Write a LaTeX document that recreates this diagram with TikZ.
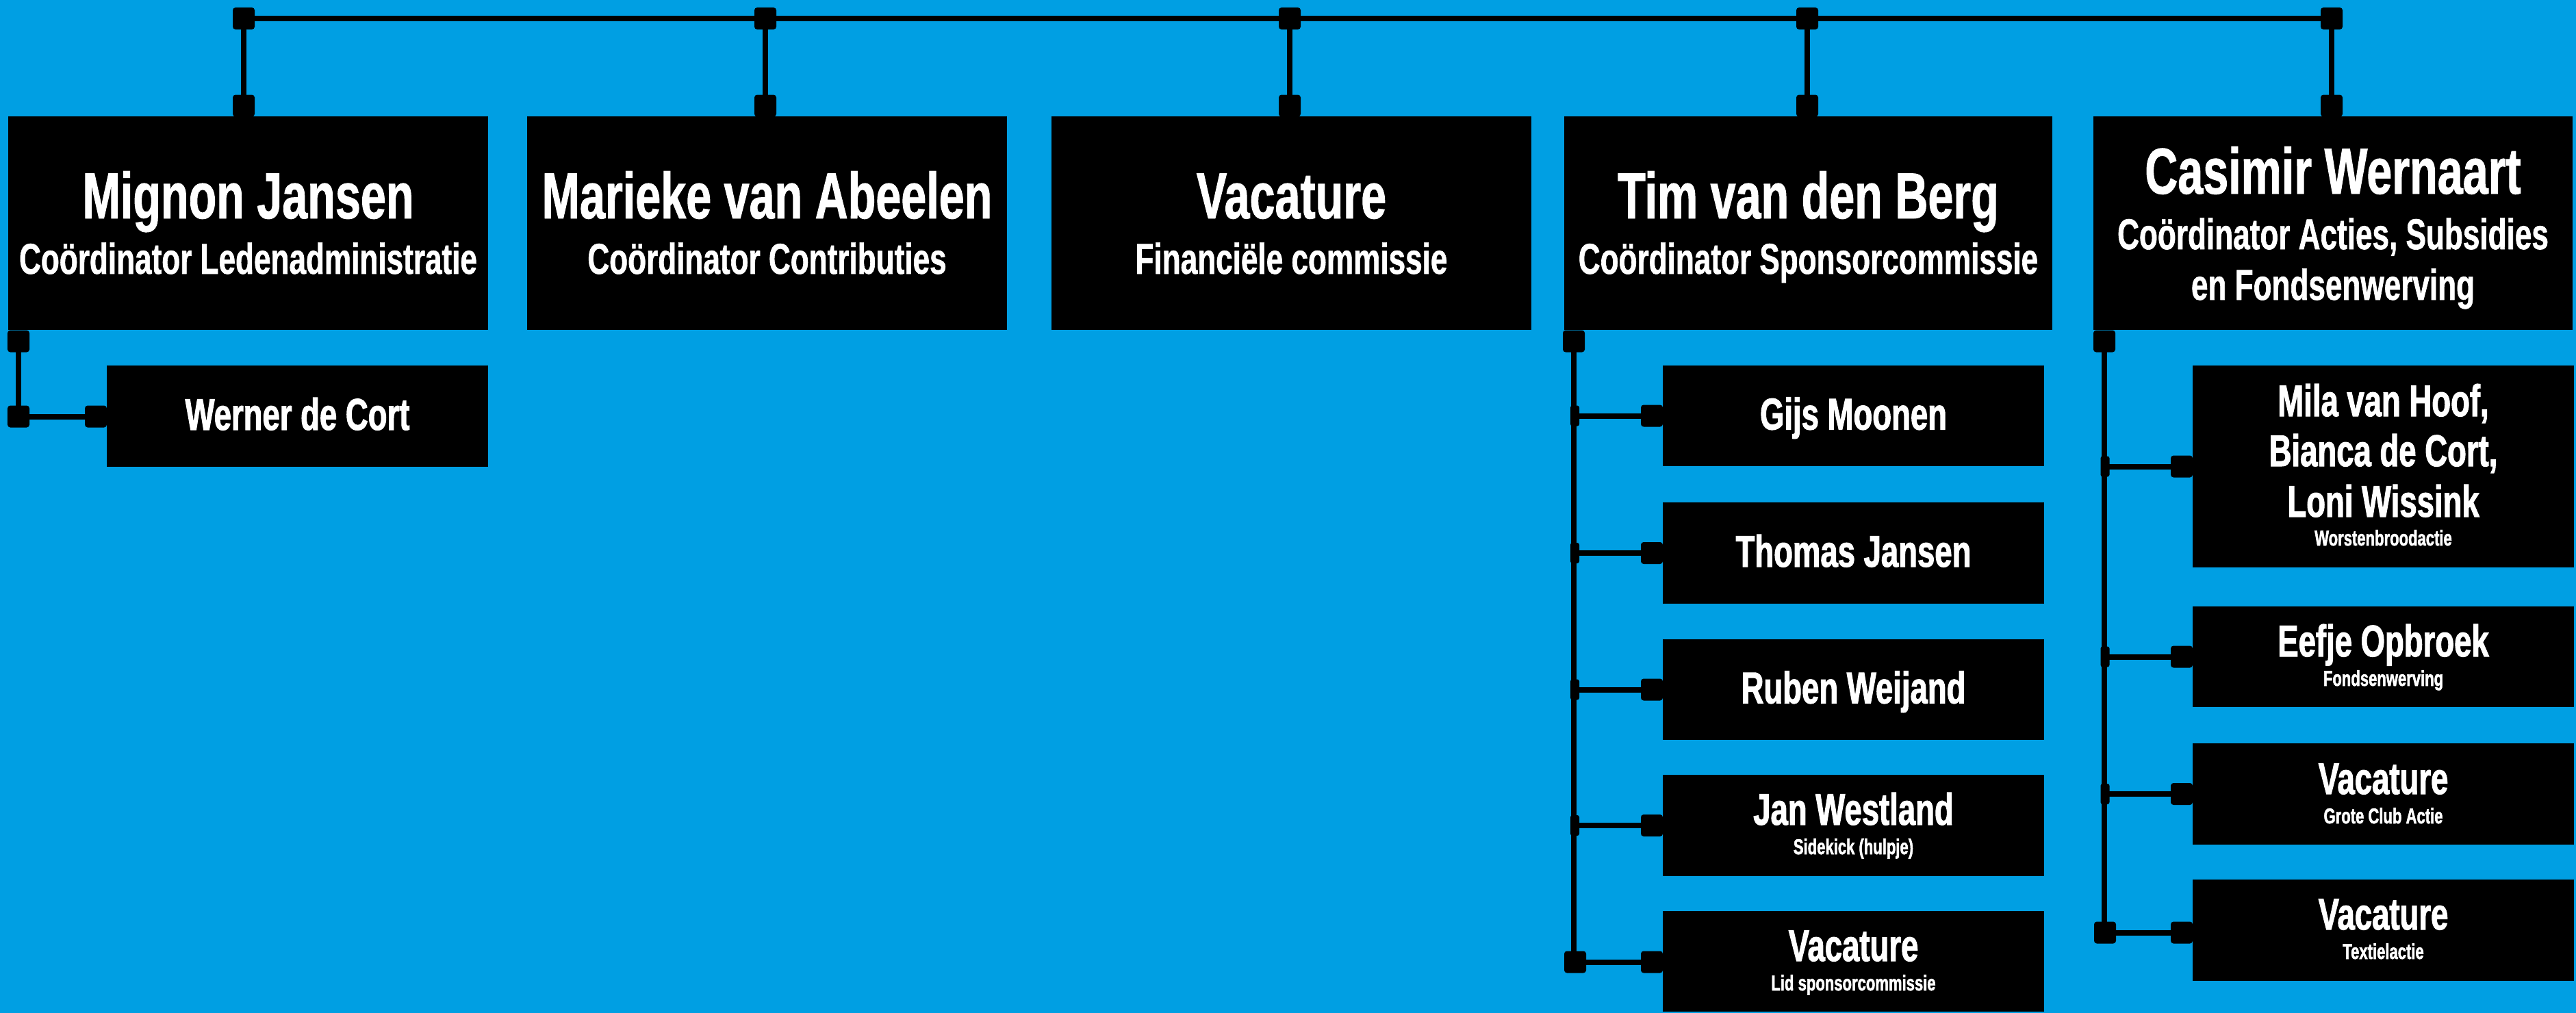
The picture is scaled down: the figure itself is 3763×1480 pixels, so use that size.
\documentclass[tikz,border=0pt]{standalone}
\usepackage{fontspec}
\usetikzlibrary{fit}
\setmainfont{Liberation Sans}
\newfontfamily\hd{Liberation Sans Bold}[FakeStretch=0.7, FakeBold=1]
\newfontfamily\hc{Liberation Sans Bold}[FakeStretch=0.7, FakeBold=1.6]
\definecolor{bg}{HTML}{009FE3}
\begin{document}
\begin{tikzpicture}[x=0.2pt,y=-0.2pt,
  box/.style={fill=black, draw=none, inner sep=0pt},
  sq/.style={fill=black, rounded corners=0.8pt, minimum width=6.4pt, minimum height=6.4pt, inner sep=0pt},
  bump/.style={fill=black, rounded corners=0.6pt, minimum width=2.6pt, minimum height=6pt, inner sep=0pt},
  ln/.style={line width=1.6pt, draw=black},
  nm/.style={text=white, anchor=base, inner sep=0pt, font=\hd\fontsize{19}{19}\selectfont},
  rl/.style={text=white, anchor=base, inner sep=0pt, font=\hd\fontsize{12.6}{12.6}\selectfont},
  cn/.style={text=white, anchor=base, inner sep=0pt, font=\hc\fontsize{13}{13}\selectfont},
  cs/.style={text=white, anchor=base, inner sep=0pt, font=\hc\fontsize{6.3}{6.3}\selectfont}]
\useasboundingbox (0,0) rectangle (3763,1480);
\fill[bg] (0,0) rectangle (3763,1480);

% top-level boxes
\node[box, fit={(12,170) (713,482)}] (A) {};
\node[box, fit={(770,170) (1471,482)}] (B) {};
\node[box, fit={(1536,170) (2237,482)}] (C) {};
\node[box, fit={(2285,170) (2998,482)}] (D) {};
\node[box, fit={(3058,170) (3758,482)}] (E) {};

% child boxes
\node[box, fit={(156,534) (713,682)}] (A1) {};
\node[box, fit={(2429,534) (2986,681)}] (D1) {};
\node[box, fit={(2429,734) (2986,882)}] (D2) {};
\node[box, fit={(2429,934) (2986,1081)}] (D3) {};
\node[box, fit={(2429,1132) (2986,1280)}] (D4) {};
\node[box, fit={(2429,1331) (2986,1478)}] (D5) {};
\node[box, fit={(3203,534) (3760,829)}] (E1) {};
\node[box, fit={(3203,886) (3760,1033)}] (E2) {};
\node[box, fit={(3203,1086) (3760,1234)}] (E3) {};
\node[box, fit={(3203,1285) (3760,1433)}] (E4) {};

% top connector squares
\foreach \n/\x in {1/356,2/1118,3/1884,4/2640,5/3406}{
  \node[sq] (t\n) at (\x,27) {};
  \node[sq] (b\n) at (\x,154.5) {};
}
\draw[ln] (t1.center) -- (t5.center);
\foreach \n in {1,...,5}{ \draw[ln] (t\n.center) -- (b\n.center); }

% Mignon branch
\node[sq] (as) at (27,498.5) {};
\node[sq] (aj) at (27,608.5) {};
\node[sq] (ac) at (140,608.5) {};
\draw[ln] (as.center) -- (aj.center);
\draw[ln] (aj.center) -- (ac.center);

% Tim branch
\node[sq] (ds) at (2299,498.5) {};
\node[bump] (dj1) at (2300.5,607.5) {};
\node[bump] (dj2) at (2300.5,808) {};
\node[bump] (dj3) at (2300.5,1007.5) {};
\node[bump] (dj4) at (2300.5,1206) {};
\node[sq] (dj5) at (2301,1405.5) {};
\foreach \n/\y in {1/607.5,2/808,3/1007.5,4/1206,5/1405.5}{
  \node[sq] (dc\n) at (2413,\y) {};
  \draw[ln] (dj\n.center) -- (dc\n.center);
}
\draw[ln] (ds.center) -- (ds.center |- dj5.center);

% Casimir branch
\node[sq] (es) at (3074,498.5) {};
\node[bump] (ej1) at (3075,681.5) {};
\node[bump] (ej2) at (3075,959.5) {};
\node[bump] (ej3) at (3075,1160) {};
\node[sq] (ej4) at (3075,1362.5) {};
\foreach \n/\y in {1/681.5,2/959.5,3/1160,4/1362.5}{
  \node[sq] (ec\n) at (3187,\y) {};
  \draw[ln] (ej\n.center) -- (ec\n.center);
}
\draw[ln] (es.center) -- (es.center |- ej4.center);

% texts top level
\node[nm] (An) at (362.5,319) {Mignon Jansen};
\node[rl] (Ar) at (362.5,400) {Coördinator Ledenadministratie};
\node[nm] (Bn) at (1120.5,319) {Marieke van Abeelen};
\node[rl] (Br) at (1120.5,400) {Coördinator Contributies};
\node[nm] (Cn) at (1886.5,319) {Vacature};
\node[rl] (Cr) at (1886.5,400) {Financiële commissie};
\node[nm] (Dn) at (2641.5,319) {Tim van den Berg};
\node[rl] (Dr) at (2641.5,400) {Coördinator Sponsorcommissie};
\node[nm] (En) at (3408,283) {Casimir Wernaart};
\node[rl] (Er1) at (3408,364) {Coördinator Acties, Subsidies};
\node[rl] (Er2) at (3408,438) {en Fondsenwerving};

% children texts
\node[cn] (A1n) at (434.5,628) {Werner de Cort};
\node[cn] (D1n) at (2707.5,627.5) {Gijs Moonen};
\node[cn] (D2n) at (2707.5,828) {Thomas Jansen};
\node[cn] (D3n) at (2707.5,1027.5) {Ruben Weijand};
\node[cn] (D4n) at (2707.5,1205) {Jan Westland};
\node[cs] (D4s) at (2707.5,1248) {Sidekick (hulpje)};
\node[cn] (D5n) at (2707.5,1404) {Vacature};
\node[cs] (D5s) at (2707.5,1447) {Lid sponsorcommissie};
\node[cn] (E1a) at (3481.5,608) {Mila van Hoof,};
\node[cn] (E1b) at (3481.5,681) {Bianca de Cort,};
\node[cn] (E1c) at (3481.5,755) {Loni Wissink};
\node[cs] (E1s) at (3481.5,797) {Worstenbroodactie};
\node[cn] (E2n) at (3481.5,959) {Eefje Opbroek};
\node[cs] (E2s) at (3481.5,1002) {Fondsenwerving};
\node[cn] (E3n) at (3481.5,1160) {Vacature};
\node[cs] (E3s) at (3481.5,1203) {Grote Club Actie};
\node[cn] (E4n) at (3481.5,1358) {Vacature};
\node[cs] (E4s) at (3481.5,1401) {Textielactie};
\end{tikzpicture}
\end{document}
